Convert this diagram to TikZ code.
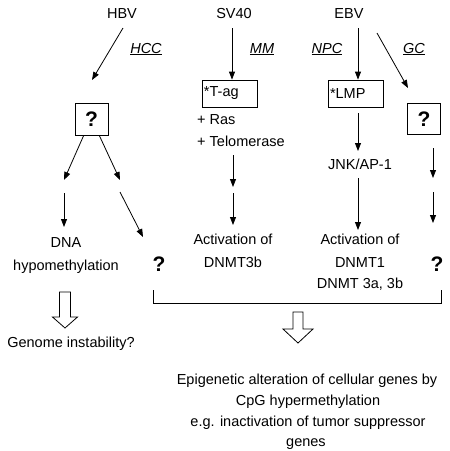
\documentclass[tikz,border=0pt]{standalone}
\usepackage{fontspec}
\setmainfont{Liberation Sans}
\usetikzlibrary{arrows.meta}

\tikzset{
  txt/.style={font=\fontsize{14.5}{17}\selectfont, inner sep=0pt, anchor=base},
  lbl/.style={font=\fontsize{14.5}{17}\selectfont\itshape, inner sep=0pt, anchor=base},
  qmark/.style={font=\fontsize{21}{21}\selectfont\bfseries, inner sep=0pt},
  qbox/.style={draw, line width=0.8pt, minimum width=33pt, minimum height=32pt, inner sep=0pt,
    font=\fontsize{21}{21}\selectfont\bfseries},
  genebox/.style={draw, line width=0.8pt, minimum width=55pt, minimum height=27pt, inner sep=2pt,
    text width=51pt, align=left, font=\fontsize{14.5}{17}\selectfont},
  arr/.style={-{Triangle[length=8pt,width=6pt]}, line width=0.8pt},
  hollow/.style={line width=0.8pt}
}

\begin{document}
\begin{tikzpicture}[x=1pt, y=-1pt]
    \useasboundingbox (0,0) rectangle (450,451);

    % Viruses.
    \node[txt] (hbv)  at (122,18) {HBV};
    \node[txt] (sv40) at (234,18) {SV40};
    \node[txt] (ebv)  at (349,18) {EBV};

    % Tumour types.
    \node[lbl] (hcc) at (146,53) {\underline{HCC}};
    \node[lbl] (mm)  at (262,53) {\underline{MM}};
    \node[lbl] (npc) at (327,53) {\underline{NPC}};
    \node[lbl] (gc)  at (414,53) {\underline{GC}};

    % HBV column.
    \node[qbox] (qhbv) at (91.5,119.5) {?};
    \node[txt] (dna)  at (66,247) {DNA};
    \node[txt] (hypo) at (66,270) {hypomethylation};
    \node[qmark] (qleft) at (159,264) {?};
    \node[txt] (genome) at (71,347) {Genome instability?};

    % SV40 column.
    \node[genebox] (tag) at (229.5,93.5) {*T-ag};
    \node[txt, anchor=base west] (ras)  at (197,124) {+ Ras};
    \node[txt, anchor=base west] (telo) at (197,146) {+ Telomerase};
    \node[txt] (actsv)  at (233,244) {Activation of};
    \node[txt] (dnmt3b) at (233,267) {DNMT3b};

    % EBV column.
    \node[genebox] (lmp) at (355.5,93.5) {*LMP};
    \node[txt] (jnk)   at (360,169) {JNK/AP-1};
    \node[txt] (actebv) at (360,244) {Activation of};
    \node[txt] (dnmt1)  at (360,267) {DNMT1};
    \node[txt] (dnmt3a) at (360,288) {DNMT 3a, 3b};

    % GC column.
    \node[qbox, minimum height=31pt] (qgc) at (424,119) {?};
    \node[qmark] (qright) at (437,264) {?};

    % Outcome.
    \node[txt] (epi1) at (307,384) {Epigenetic alteration of cellular genes by};
    \node[txt] (epi2) at (308,405) {CpG hypermethylation};
    \node[txt] (epi3) at (308,426) {e.g. inactivation of tumor suppressor};
    \node[txt] (epi4) at (306,446) {genes};

    % Free arrow ends.
    \coordinate (h1) at (123,28);   \coordinate (h2) at (92,80);
    \coordinate (h3) at (64,180);   \coordinate (h4) at (120,180);
    \coordinate (h5) at (64,193);   \coordinate (h6) at (64,227);
    \coordinate (h7) at (120,192);  \coordinate (h8) at (143,237);
    \coordinate (s1) at (232,28);
    \coordinate (s3) at (233,155);  \coordinate (s4) at (233,187);
    \coordinate (s5) at (233,193);  \coordinate (s6) at (233,225);
    \coordinate (e1) at (358,28);
    \coordinate (e3) at (358,113);  \coordinate (e4) at (358,151);
    \coordinate (e5) at (358,178);  \coordinate (e6) at (358,230);
    \coordinate (g1) at (377,33);   \coordinate (g2) at (408,88);
    \coordinate (g3) at (433,148);  \coordinate (g4) at (433,178);
    \coordinate (g5) at (433,192);  \coordinate (g6) at (433,223);

    % Arrows, HBV.
    \draw[arr] (h1) -- (h2);
    \draw[arr] ([xshift=-8pt]qhbv.south) -- (h3);
    \draw[arr] ([xshift=8pt]qhbv.south) -- (h4);
    \draw[arr] (h5) -- (h6);
    \draw[arr] (h7) -- (h8);

    % Arrows, SV40.
    \draw[arr] (s1) -- (s1 |- tag.north);
    \draw[arr] (s3) -- (s4);
    \draw[arr] (s5) -- (s6);

    % Arrows, EBV.
    \draw[arr] (e1) -- (e1 |- lmp.north);
    \draw[arr] (e3) -- (e4);
    \draw[arr] (e5) -- (e6);
    \draw[arr] (g1) -- (g2);
    \draw[arr] (g3) -- (g4);
    \draw[arr] (g5) -- (g6);

    % Bracket.
    \coordinate (bl) at (153,290);
    \coordinate (br) at (441,290);
    \draw[line width=0.8pt] (bl) -- ++(0,13) -| (br);

    % Hollow arrows.
    \coordinate (fa) at (65,292);
    \coordinate (fb) at (298,312);
    \draw[hollow] (fa) ++(-5.5,0) -- ++(0,25) -- ++(-7,0) -- ++(12.5,11)
        -- ++(12.5,-11) -- ++(-7,0) -- ++(0,-25) -- cycle;
    \draw[hollow] (fb) ++(-5,0) -- ++(0,17) -- ++(-10,0) -- ++(15,14)
        -- ++(15,-14) -- ++(-10,0) -- ++(0,-17) -- cycle;

\end{tikzpicture}
\end{document}
